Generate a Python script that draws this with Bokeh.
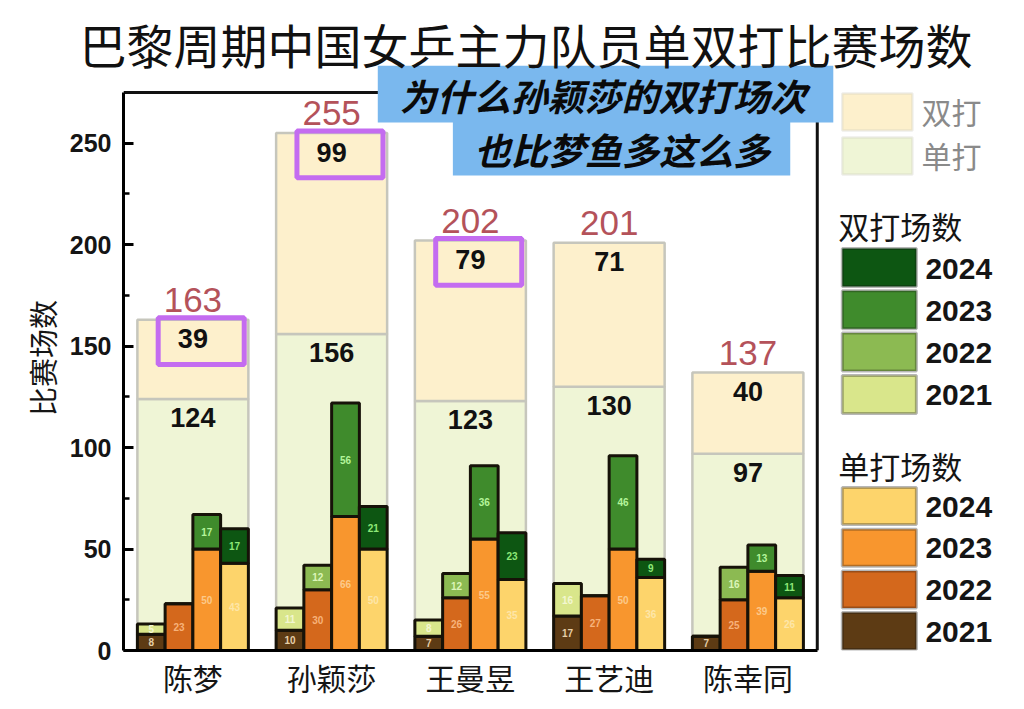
from bokeh.plotting import figure
from bokeh.models import ColumnDataSource, FixedTicker, Label, BoxAnnotation, Range1d
from bokeh.core.properties import value
from bokeh.embed import file_html
from bokeh.resources import INLINE

# ---------------- data ----------------
players = ["陈梦", "孙颖莎", "王曼昱", "王艺迪", "陈幸同"]
years = ["2021", "2022", "2023", "2024"]

singles_2021 = [8, 10, 7, 17, 7]
singles_2022 = [23, 30, 26, 27, 25]
singles_2023 = [50, 66, 55, 50, 39]
singles_2024 = [43, 50, 35, 36, 26]

doubles_2021 = [5, 11, 8, 16, 0]
doubles_2022 = [0, 12, 12, 0, 16]
doubles_2023 = [17, 56, 36, 46, 13]
doubles_2024 = [17, 21, 23, 9, 11]

singles_total = [124, 156, 123, 130, 97]
doubles_total = [39, 99, 79, 71, 40]

highlighted = ["陈梦", "孙颖莎", "王曼昱"]

y_ticks = [0, 50, 100, 150, 200, 250]
y_minor_ticks = [25, 75, 125, 175, 225]

title_text = "巴黎周期中国女乒主力队员单双打比赛场数"
y_label = "比赛场数"
note_lines = ["为什么孙颖莎的双打场次", "也比梦鱼多这么多"]
legend_bg_labels = ["双打", "单打"]
legend_d_header = "双打场数"
legend_s_header = "单打场数"

singles_by_year = [singles_2021, singles_2022, singles_2023, singles_2024]
doubles_by_year = [doubles_2021, doubles_2022, doubles_2023, doubles_2024]

# ---------------- styles ----------------
CJK = "Noto Sans CJK SC"
NUM = "Liberation Sans"
singles_colors = ["#5d3b14", "#d4681c", "#f8962e", "#fdd46b"]
doubles_colors = ["#d9e68b", "#8cba52", "#3f8b2c", "#0d5612"]
singles_label_colors = ["#e6cfa8", "#f7b27a", "#fcc98a", "#fde6a8"]
doubles_label_colors = ["#f3f7d2", "#dcf5b8", "#b4f59a", "#8ee878"]
bg_single_color = "#eff5d6"
bg_double_color = "#fdf0cc"
bg_line = "#c6c6bc"
note_color = "#7ab8ee"

# layout helpers (reference pixels -> data coordinates)
FL, FR, FT, FB = 124, 817, 92, 650   # axes box in reference pixels
YMAX = 275
N = len(players)
W, H = 1016, 701
TOP = 65                              # top of the drawing area (below the title)


def dx(px):
    return (px - FL) / (FR - FL) * N


def dy(py):
    return (FB - py) / (FB - FT) * YMAX


xs = [i + 0.5 for i in range(N)]
totals = [s + d for s, d in zip(singles_total, doubles_total)]

p = figure(width=W, height=H, x_range=Range1d(0, dx(W)), y_range=Range1d(0, dy(TOP)),
           output_backend="svg", toolbar_location=None,
           min_border_left=FL - 1, min_border_right=0, min_border_top=TOP,
           min_border_bottom=H - FB)
p.background_fill_color = "white"
p.border_fill_color = "white"
p.xgrid.visible = False
p.ygrid.visible = False
p.outline_line_color = None

# title
p.title.text = title_text
p.title.text_font = CJK
p.title.text_font_size = "47px"
p.title.text_font_style = "normal"
p.title.text_color = "#111111"
p.title.align = "left"
p.title.offset = -44
p.title.standoff = -24

# y axis
p.yaxis.bounds = (0, YMAX)
p.yaxis.ticker = FixedTicker(ticks=y_ticks, minor_ticks=y_minor_ticks)
p.yaxis.major_tick_in = 10
p.yaxis.major_tick_out = 0
p.yaxis.minor_tick_in = 6
p.yaxis.minor_tick_out = 0
p.yaxis.major_tick_line_width = 3
p.yaxis.minor_tick_line_width = 2.5
p.yaxis.axis_line_width = 3
p.yaxis.major_label_text_font = NUM
p.yaxis.major_label_text_font_size = "25px"
p.yaxis.major_label_text_font_style = "bold"
p.yaxis.major_label_text_color = "#151515"
p.yaxis.major_label_standoff = 12
p.yaxis.axis_label = y_label
p.yaxis.axis_label_text_font = CJK
p.yaxis.axis_label_text_font_size = "29px"
p.yaxis.axis_label_text_font_style = "normal"
p.yaxis.axis_label_text_color = "#151515"
p.yaxis.axis_label_standoff = 4

# x axis
p.xaxis.bounds = (0, N)
p.xaxis.ticker = FixedTicker(ticks=xs, minor_ticks=[])
p.xaxis.major_label_overrides = {x: name for x, name in zip(xs, players)}
p.xaxis.major_tick_in = 0
p.xaxis.major_tick_out = 0
p.xaxis.minor_tick_in = 0
p.xaxis.minor_tick_out = 0
p.xaxis.axis_line_width = 3
p.xaxis.major_label_text_font = CJK
p.xaxis.major_label_text_font_size = "30px"
p.xaxis.major_label_text_color = "#151515"
p.xaxis.major_label_standoff = 4

# top / right edges of the axes box
p.segment(x0=[0, N], y0=[YMAX, 0], x1=[N, N], y1=[YMAX, YMAX],
          line_color="#111111", line_width=3)

# background total bars
bg = ColumnDataSource(dict(x=xs, s=singles_total, t=totals,
                           sl=[str(v) for v in singles_total],
                           dl=[str(v) for v in doubles_total],
                           tl=[str(v) for v in totals]))
p.vbar(x="x", width=0.8, bottom=0, top="s", source=bg, fill_color=bg_single_color,
       line_color=bg_line, line_width=2.5)
p.vbar(x="x", width=0.8, bottom="s", top="t", source=bg, fill_color=bg_double_color,
       line_color=bg_line, line_width=2.5)

p.text(x="x", y="s", text="sl", source=bg, y_offset=19, text_align="center",
       text_baseline="middle", text_font=value(NUM), text_font_size="27px",
       text_font_style="bold", text_color="#111111")
p.text(x="x", y="t", text="dl", source=bg, y_offset=19, text_align="center",
       text_baseline="middle", text_font=value(NUM), text_font_size="27px",
       text_font_style="bold", text_color="#111111")
p.text(x="x", y="t", text="tl", source=bg, y_offset=-20, text_align="center",
       text_baseline="middle", text_font=value(NUM), text_font_size="35px",
       text_color="#b4525a")

# yearly stacked bars
bar_w = 0.2
for j, yr in enumerate(years):
    off = (j - 1.5) * bar_w
    s = singles_by_year[j]
    d = doubles_by_year[j]
    top = [a + b for a, b in zip(s, d)]
    bx = [x + off for x in xs]
    src = ColumnDataSource(dict(x=bx, s=s, t=top))
    p.vbar(x="x", width=bar_w, bottom=0, top="s", source=src,
           fill_color=singles_colors[j], line_color="#161208", line_width=3)
    p.vbar(x="x", width=bar_w, bottom="s", top="t", source=src,
           fill_color=doubles_colors[j], line_color="#161208", line_width=3)
    sl = ColumnDataSource(dict(x=[bx[i] for i in range(N) if s[i] > 0],
                               y=[s[i] / 2 for i in range(N) if s[i] > 0],
                               t=[str(s[i]) for i in range(N) if s[i] > 0]))
    dl = ColumnDataSource(dict(x=[bx[i] for i in range(N) if d[i] > 0],
                               y=[s[i] + d[i] / 2 for i in range(N) if d[i] > 0],
                               t=[str(d[i]) for i in range(N) if d[i] > 0]))
    p.text(x="x", y="y", text="t", source=sl, text_align="center", text_baseline="middle",
           text_font=value(NUM), text_font_size="10px", text_font_style="bold",
           text_color=singles_label_colors[j])
    p.text(x="x", y="y", text="t", source=dl, text_align="center", text_baseline="middle",
           text_font=value(NUM), text_font_size="10px", text_font_style="bold",
           text_color=doubles_label_colors[j])

# purple highlight boxes
hi = [players.index(n) for n in highlighted]
p.quad(left=[xs[i] - 0.25 for i in hi], right=[xs[i] + 0.37 for i in hi],
       bottom=[totals[i] - 22 for i in hi], top=[totals[i] + 1 for i in hi],
       fill_color=None, line_color="#c46cf0", line_width=5)

# blue note
p.add_layout(BoxAnnotation(left=dx(378), right=dx(833), bottom=dy(122), top=dy(TOP),
                           fill_color=note_color, fill_alpha=1.0, line_color=None))
p.add_layout(BoxAnnotation(left=dx(453), right=dx(790), bottom=dy(175), top=dy(121),
                           fill_color=note_color, fill_alpha=1.0, line_color=None))
p.add_layout(Label(x=dx(603), y=dy(94), text=note_lines[0], text_align="center",
                   text_baseline="middle", text_font=CJK, text_font_size="37px",
                   text_font_style="bold italic", text_color="#0a0a0a"))
p.add_layout(Label(x=dx(622), y=dy(148), text=note_lines[1], text_align="center",
                   text_baseline="middle", text_font=CJK, text_font_size="37px",
                   text_font_style="bold italic", text_color="#0a0a0a"))

# legend: background patches
for k, (lab, col) in enumerate(zip(legend_bg_labels, [bg_double_color, bg_single_color])):
    t0 = 93 + k * 44
    p.add_layout(BoxAnnotation(left=dx(842), right=dx(912), top=dy(t0), bottom=dy(t0 + 37),
                               fill_color=col, fill_alpha=1.0, line_color=bg_line,
                               line_width=2.5))
    p.add_layout(Label(x=dx(921), y=dy(t0 + 17), text=lab, text_align="left",
                       text_baseline="middle", text_font=CJK, text_font_size="30px",
                       text_color="#8a8a8a"))

# legend: doubles years
p.add_layout(Label(x=dx(838), y=dy(225), text=legend_d_header, text_align="left",
                   text_baseline="middle", text_font=CJK, text_font_size="31px",
                   text_color="#151515"))
for k, j in enumerate(range(len(years) - 1, -1, -1)):
    t0 = 248 + k * 42.3
    p.add_layout(BoxAnnotation(left=dx(842), right=dx(916), top=dy(t0), bottom=dy(t0 + 38),
                               fill_color=doubles_colors[j], fill_alpha=1.0,
                               line_color="#111111", line_width=3))
    p.add_layout(Label(x=dx(925), y=dy(t0 + 20), text=years[j], text_align="left",
                       text_baseline="middle", text_font=NUM, text_font_size="30px",
                       text_font_style="bold", text_color="#151515"))

# legend: singles years
p.add_layout(Label(x=dx(838), y=dy(465), text=legend_s_header, text_align="left",
                   text_baseline="middle", text_font=CJK, text_font_size="31px",
                   text_color="#151515"))
for k, j in enumerate(range(len(years) - 1, -1, -1)):
    t0 = 487 + k * 41.7
    p.add_layout(BoxAnnotation(left=dx(842), right=dx(916), top=dy(t0), bottom=dy(t0 + 37),
                               fill_color=singles_colors[j], fill_alpha=1.0,
                               line_color="#111111", line_width=3))
    p.add_layout(Label(x=dx(925), y=dy(t0 + 19), text=years[j], text_align="left",
                       text_baseline="middle", text_font=NUM, text_font_size="30px",
                       text_font_style="bold", text_color="#151515"))

open("out.html", "w").write(file_html(p, INLINE))
